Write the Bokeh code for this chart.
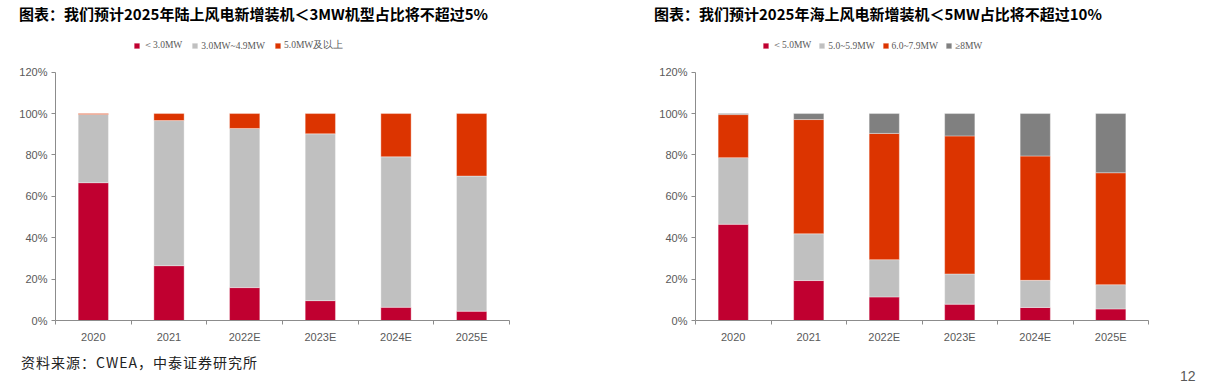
from bokeh.plotting import figure
from bokeh.models import ColumnDataSource, Range1d, FixedTicker, Legend, LegendItem, Div
from bokeh.layouts import column, row
from bokeh.embed import file_html
from bokeh.resources import INLINE

# ---------------- data ----------------
years = ["2020", "2021", "2022E", "2023E", "2024E", "2025E"]
y_ticks = [0, 20, 40, 60, 80, 100, 120]
y_tick_labels = ["0%", "20%", "40%", "60%", "80%", "100%", "120%"]

# onshore (%)
on_lt3 = [66.6, 26.5, 15.9, 9.6, 6.4, 4.5]
on_3to49 = [33.0, 70.1, 76.9, 80.6, 72.7, 65.3]
on_ge5 = [0.4, 3.4, 7.2, 9.8, 20.9, 30.2]
on_labels = ["＜3.0MW", "3.0MW~4.9MW", "5.0MW及以上"]

# offshore (%)
off_lt5 = [46.5, 19.3, 11.4, 7.9, 6.3, 5.6]
off_5to59 = [32.2, 22.6, 18.0, 14.6, 13.1, 11.7]
off_6to79 = [20.8, 55.2, 61.0, 66.7, 60.1, 54.1]
off_ge8 = [0.5, 2.9, 9.6, 10.8, 20.5, 28.6]
off_labels = ["＜5.0MW", "5.0~5.9MW", "6.0~7.9MW", "≥8MW"]

title_left = "图表：我们预计2025年陆上风电新增装机＜3MW机型占比将不超过5%"
title_right = "图表：我们预计2025年海上风电新增装机＜5MW占比将不超过10%"
source_text = "资料来源：CWEA，中泰证券研究所"
page_no = "12"

RED = "#C00030"
GRAY = "#C0C0C0"
ORANGE = "#DC3400"
DGRAY = "#808080"
AXIS = "#8C8C8C"
TXT = "#595959"


def make_chart(width, bl, br, series, colors, labels, legend_x, spacing):
    n = len(years)
    data = {"x": [i + 0.5 for i in range(n)]}
    keys = []
    for i, s in enumerate(series):
        k = f"s{i}"
        data[k] = s
        keys.append(k)
    src = ColumnDataSource(data)
    p = figure(width=width, height=315, x_range=Range1d(0, n), y_range=Range1d(0, 138.2),
               output_backend="svg", toolbar_location=None,
               min_border_left=bl, min_border_right=br, min_border_top=4, min_border_bottom=25)
    rs = p.vbar_stack(keys, x="x", width=0.4, source=src, fill_color=colors,
                      line_color="white", line_width=0.6, line_alpha=0.6)
    p.xgrid.visible = False
    p.ygrid.visible = False
    p.outline_line_color = None
    p.background_fill_color = "white"
    p.border_fill_color = "white"

    ya = p.yaxis[0]
    ya.bounds = (0, 120)
    ya.ticker = FixedTicker(ticks=y_ticks)
    ya.major_label_overrides = {t: l for t, l in zip(y_ticks, y_tick_labels)}
    ya.axis_line_color = AXIS
    ya.major_tick_line_color = AXIS
    ya.major_tick_out = 4
    ya.major_tick_in = 0
    ya.minor_tick_line_color = None
    ya.major_label_text_font = "Liberation Sans"
    ya.major_label_text_font_size = "11px"
    ya.major_label_text_color = TXT
    ya.major_label_standoff = 4

    xa = p.xaxis[0]
    xa.ticker = FixedTicker(ticks=[i + 0.5 for i in range(n)], minor_ticks=list(range(n + 1)))
    xa.major_label_overrides = {i + 0.5: y for i, y in enumerate(years)}
    xa.axis_line_color = AXIS
    xa.major_tick_line_color = None
    xa.major_tick_out = 0
    xa.major_tick_in = 0
    xa.minor_tick_line_color = AXIS
    xa.minor_tick_out = 4
    xa.minor_tick_in = 0
    xa.major_label_text_font = "Liberation Sans"
    xa.major_label_text_font_size = "11px"
    xa.major_label_text_color = TXT
    xa.major_label_standoff = 6

    legend = Legend(items=[LegendItem(label=l, renderers=[r]) for l, r in zip(labels, rs)],
                    orientation="horizontal", location=(legend_x, 268), padding=0, margin=0,
                    spacing=spacing, glyph_width=7, glyph_height=7, label_standoff=3,
                    label_height=10, label_text_font="Liberation Serif",
                    label_text_font_size="9.5px", label_text_color=TXT,
                    border_line_color=None, background_fill_alpha=0)
    p.add_layout(legend)
    return p


p1 = make_chart(610, 55, 101, [on_lt3, on_3to49, on_ge5], [RED, GRAY, ORANGE], on_labels, 78, 9)
p2 = make_chart(612, 85, 74, [off_lt5, off_5to59, off_6to79, off_ge8], [RED, GRAY, ORANGE, DGRAY],
                off_labels, 67, 7)

tstyle = ("font-family:'Noto Sans CJK SC';font-weight:bold;font-size:15px;line-height:16px;"
          "color:#000;white-space:nowrap;padding-top:6px;")
t1 = Div(text=f'<div style="{tstyle}padding-left:19px;">{title_left}</div>',
         width=610, height=30, margin=0)
t2 = Div(text=f'<div style="{tstyle}padding-left:44px;">{title_right}</div>',
         width=612, height=30, margin=0)

footer = Div(text=(
    '<div style="position:relative;width:1222px;height:38px;">'
    '<span style="position:absolute;left:21px;top:9px;font-family:\'Noto Sans CJK SC\';'
    'font-size:14px;line-height:16px;letter-spacing:1px;color:#222;white-space:nowrap;">'
    f'{source_text}</span>'
    '<span style="position:absolute;left:1180px;top:24px;font-family:\'Liberation Sans\';'
    f'font-size:14px;line-height:14px;color:{TXT};">{page_no}</span></div>'),
    width=1222, height=38, margin=0)

layout = column(row(t1, t2, spacing=0), row(p1, p2, spacing=0), footer, spacing=0)

open("out.html", "w").write(file_html(layout, INLINE))
